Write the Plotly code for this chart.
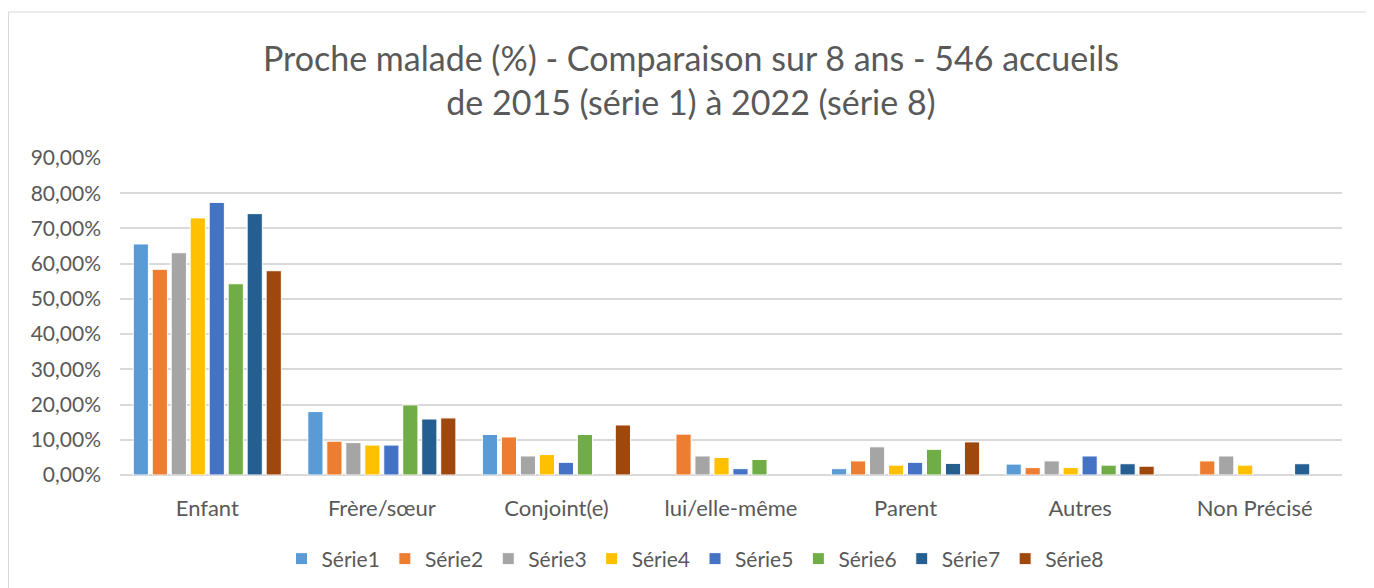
import plotly.graph_objects as go

categories = ["Enfant", "Frère/sœur", "Conjoint(e)", "lui/elle-même", "Parent", "Autres", "Non Précisé"]
series_names = ["Série1", "Série2", "Série3", "Série4", "Série5", "Série6", "Série7", "Série8"]

serie1 = [65.6, 18.0, 11.5, None, 1.8, 3.1, None]
serie2 = [58.4, 9.6, 10.8, 11.6, 4.0, 2.1, 4.0]
serie3 = [63.1, 9.2, 5.4, 5.4, 8.0, 4.0, 5.4]
serie4 = [73.0, 8.5, 5.8, 5.0, 2.8, 2.1, 2.8]
serie5 = [77.4, 8.5, 3.6, 1.8, 3.6, 5.4, None]
serie6 = [54.3, 19.9, 11.5, 4.4, 7.3, 2.8, None]
serie7 = [74.2, 15.9, None, None, 3.3, 3.2, 3.2]
serie8 = [58.0, 16.2, 14.2, None, 9.4, 2.5, None]

all_series = [serie1, serie2, serie3, serie4, serie5, serie6, serie7, serie8]
colors = ["#5B9BD5", "#ED7D31", "#A5A5A5", "#FFC000", "#4472C4", "#70AD47", "#255E91", "#9E480E"]

FONT = "Lato"
GREY = "#595959"

W, H = 1366, 580
L, R, T, B = 112, 32, 150, 113
PW, PH = W - L - R, H - T - B

fig = go.Figure()
for name, vals, col in zip(series_names, all_series, colors):
    fig.add_trace(go.Bar(
        name=name, x=categories,
        y=[v / 100 if v is not None else None for v in vals],
        marker=dict(color=col, line=dict(color="white", width=1)),
    ))

fig.update_layout(
    width=W, height=H,
    paper_bgcolor="white", plot_bgcolor="white",
    separators=", ",
    font=dict(family=FONT, color=GREY),
    margin=dict(l=L, r=R, t=T, b=B),
    barmode="group", bargap=0.13, bargroupgap=0.2,
    title=dict(
        text="Proche malade (%) - Comparaison sur 8 ans - 546 accueils<br>de 2015 (série 1) à 2022 (série 8)",
        x=0.5, xanchor="center", y=1 - 63 / H, yanchor="middle",
        font=dict(family=FONT, size=34, color=GREY),
    ),
    xaxis=dict(
        showgrid=False, showline=False, ticks="", automargin=False,
        ticklabelstandoff=18,
        tickfont=dict(family=FONT, size=22, color=GREY),
    ),
    yaxis=dict(
        range=[0, 0.9], dtick=0.1, tickformat=".2%", automargin=False,
        showgrid=True, gridcolor="#D9D9D9", gridwidth=2,
        zeroline=True, zerolinecolor="#D9D9D9", zerolinewidth=2,
        showline=False, ticks="",
        ticklabelstandoff=18,
        tickfont=dict(family=FONT, size=21, color=GREY),
    ),
    legend=dict(
        orientation="h", xref="container", yref="container",
        x=687 / W, xanchor="center", y=1 - 551 / H, yanchor="middle",
        font=dict(family=FONT, size=21, color=GREY), traceorder="normal",
    ),
    shapes=[dict(
        type="rect", xref="paper", yref="paper",
        x0=(0.5 - L) / PW, x1=(1362 - L) / PW,
        y0=(467 - 600) / PH, y1=(467 - 4) / PH,
        line=dict(color="#D9D9D9", width=1), fillcolor="rgba(0,0,0,0)", layer="below",
    )],
)

fig.write_html("out.html")
